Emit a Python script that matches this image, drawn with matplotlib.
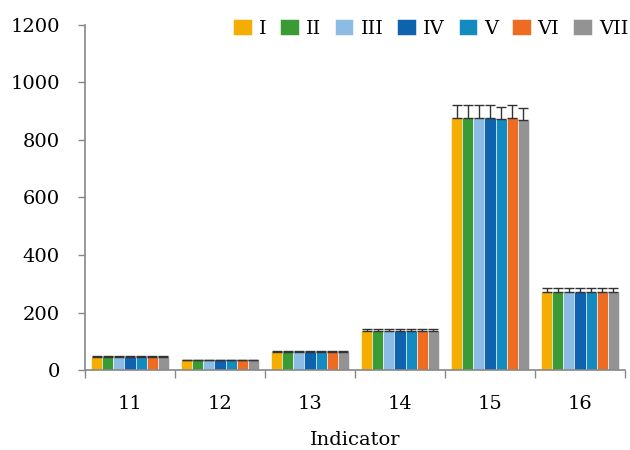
import matplotlib
matplotlib.use("Agg")
import matplotlib.pyplot as plt
import numpy as np

categories = ["11", "12", "13", "14", "15", "16"]
series = ["I", "II", "III", "IV", "V", "VI", "VII"]
values = {
    "I":   [44, 34, 63, 134, 876, 270],
    "II":  [44, 34, 63, 134, 876, 270],
    "III": [44, 34, 63, 134, 876, 270],
    "IV":  [44, 34, 63, 134, 876, 270],
    "V":   [44, 34, 63, 134, 872, 270],
    "VI":  [44, 34, 63, 134, 876, 270],
    "VII": [44, 34, 63, 134, 870, 270],
}
errors = {
    "I":   [3, 2, 4, 7, 45, 14],
    "II":  [3, 2, 4, 7, 45, 14],
    "III": [3, 2, 4, 7, 45, 14],
    "IV":  [3, 2, 4, 7, 45, 14],
    "V":   [3, 2, 4, 7, 43, 14],
    "VI":  [3, 2, 4, 9, 45, 14],
    "VII": [3, 2, 4, 7, 43, 14],
}
colors = ["#F4AD00", "#3A9A33", "#8CBBE3", "#0E62AE", "#138BC0", "#EE6C22", "#939393"]

plt.rcParams['font.family'] = ['DejaVu Serif']

fig = plt.figure(figsize=(6.3, 4.5), dpi=100)
ax = fig.add_axes([85 / 630, 80 / 450, 540 / 630, 345 / 450])

x = np.arange(len(categories))
n = len(series)
w = 0.866 / n
for i, s in enumerate(series):
    pos = x - 0.433 + w * (i + 0.5)
    v = np.array(values[s])
    e = np.array(errors[s])
    ax.bar(pos, v, width=w, color=colors[i], edgecolor="white", linewidth=0.4,
           label=s, zorder=2,
           yerr=[np.zeros_like(e), e],
           error_kw=dict(ecolor="#333333", elinewidth=1.0, capsize=3.6, capthick=1.0))

ax.set_xlim(-0.5, len(categories) - 0.5)
ax.set_ylim(0, 1200)
ax.set_yticks(range(0, 1201, 200))
ax.set_xticks(x)
ax.set_xticklabels(categories)
ax.set_xticks(np.arange(-0.5, len(categories), 1), minor=True)
ax.tick_params(axis='x', which='major', length=0, labelsize=14, pad=18)
ax.tick_params(axis='x', which='minor', length=6, color="#888888", width=1)
ax.tick_params(axis='y', labelsize=14, length=5, width=1, color="#888888", pad=13)
for sp in ["top", "right"]:
    ax.spines[sp].set_visible(False)
for sp in ["left", "bottom"]:
    ax.spines[sp].set_color("#888888")
    ax.spines[sp].set_linewidth(1.2)
ax.set_xlabel("Indicator", fontsize=14, labelpad=13)

leg = ax.legend(ncol=7, loc="center right", bbox_to_anchor=(1.006, 0.991), frameon=False,
                fontsize=14, handlelength=0.95, handleheight=0.95, handletextpad=0.36,
                columnspacing=0.72, borderaxespad=0, borderpad=0)

fig.savefig("out.png", dpi=100)
